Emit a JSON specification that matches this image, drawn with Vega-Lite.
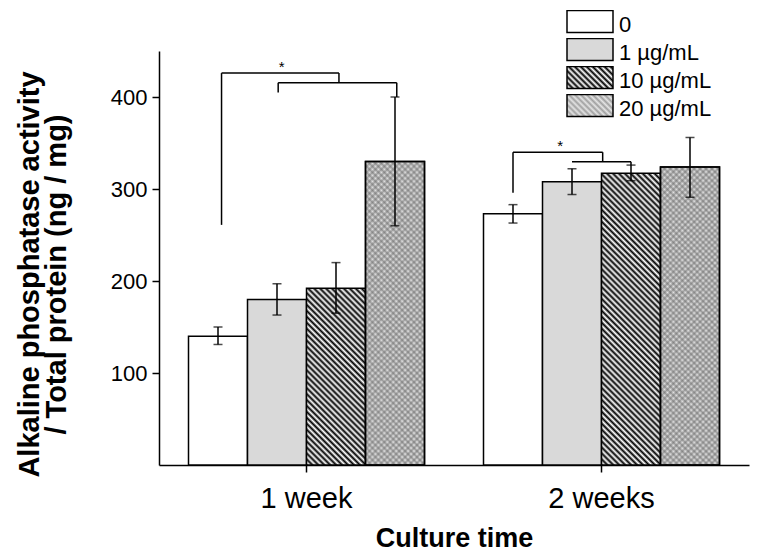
{
  "$schema": "https://vega.github.io/schema/vega-lite/v6.json",
  "width": 590,
  "height": 414,
  "autosize": {"type": "none"},
  "padding": {"left": 159, "top": 51, "right": 22, "bottom": 94},
  "background": "white",
  "config": {
    "view": {"stroke": null},
    "font": "Liberation Sans",
    "axis": {"domainColor": "black", "domainWidth": 1.5, "tickColor": "black", "tickWidth": 1.5, "labelColor": "black", "titleColor": "black", "labelFont": "Liberation Sans", "titleFont": "Liberation Sans", "grid": false}
  },
  "datasets": {
    "bars": [
      {"week": "1 week", "conc": "0", "mean": 140, "low": 131, "high": 150},
      {"week": "1 week", "conc": "1 µg/mL", "mean": 180, "low": 163, "high": 197},
      {"week": "1 week", "conc": "10 µg/mL", "mean": 192, "low": 165, "high": 220},
      {"week": "1 week", "conc": "20 µg/mL", "mean": 330, "low": 260, "high": 400},
      {"week": "2 weeks", "conc": "0", "mean": 273, "low": 263, "high": 283},
      {"week": "2 weeks", "conc": "1 µg/mL", "mean": 308, "low": 294, "high": 322},
      {"week": "2 weeks", "conc": "10 µg/mL", "mean": 317, "low": 309, "high": 326},
      {"week": "2 weeks", "conc": "20 µg/mL", "mean": 324, "low": 291, "high": 356}
    ],
    "brackets": [
      {"xa": 1.06, "xb": 1.06, "ya": 261, "yb": 426},
      {"xa": 1.06, "xb": 3.05, "ya": 426, "yb": 426},
      {"xa": 3.05, "xb": 3.05, "ya": 426, "yb": 415.5},
      {"xa": 2.02, "xb": 4.03, "ya": 415.5, "yb": 415.5},
      {"xa": 2.02, "xb": 2.02, "ya": 415.5, "yb": 405},
      {"xa": 4.03, "xb": 4.03, "ya": 415.5, "yb": 400},
      {"xa": 6, "xb": 6, "ya": 296, "yb": 340},
      {"xa": 6, "xb": 7.52, "ya": 340, "yb": 340},
      {"xa": 7.52, "xb": 7.52, "ya": 340, "yb": 329.7},
      {"xa": 7, "xb": 8, "ya": 329.7, "yb": 329.7},
      {"xa": 8, "xb": 8, "ya": 329.7, "yb": 326}
    ],
    "stars": [
      {"xs": 2.08, "ys": 426, "label": "*"},
      {"xs": 6.8, "ys": 340, "label": "*"}
    ]
  },
  "layer": [
    {
      "data": {"name": "bars"},
      "encoding": {
        "x": {"field": "week", "type": "nominal", "scale": {"paddingInner": 0.2, "paddingOuter": 0.1},
          "axis": {"title": "Culture time", "labelAngle": 0, "labelFontSize": 29, "labelPadding": 12, "tickSize": 7, "titleFontSize": 27, "titleFontWeight": "bold", "titleY": 60, "titleBaseline": "top"}},
        "xOffset": {"field": "conc", "type": "nominal", "scale": {"domain": ["0", "1 µg/mL", "10 µg/mL", "20 µg/mL"], "paddingInner": 0, "paddingOuter": 0}}
      },
      "layer": [
        {
          "mark": {"type": "bar", "stroke": "black", "strokeWidth": 1.5},
          "encoding": {
            "y": {"field": "mean", "type": "quantitative", "scale": {"domain": [0, 450], "nice": false},
              "axis": {"title": ["Alkaline phosphatase activity", "/ Total protein (ng / mg)"], "values": [100, 200, 300, 400], "labelFontSize": 22, "tickSize": 7, "labelPadding": 5, "titleFontSize": 29, "titleFontWeight": "bold", "titleX": -121, "titleY": 223, "titleAngle": -90, "titleAlign": "center", "titleBaseline": "alphabetic", "titleLineHeight": 27}},
            "fill": {
              "field": "conc", "type": "nominal",
              "scale": {"domain": ["0", "1 µg/mL", "10 µg/mL", "20 µg/mL"], "range": ["#ffffff", "#d9d9d9",
                {"expr": "{'gradient': 'linear', 'x1': 0, 'y1': 1, 'x2': 1.3136, 'y2': 0.3721, 'stops': [{'offset': 0, 'color': '#000'}, {'offset': 0.04, 'color': '#fff'}, {'offset': 0.08, 'color': '#000'}, {'offset': 0.12, 'color': '#fff'}, {'offset': 0.16, 'color': '#000'}, {'offset': 0.2, 'color': '#fff'}, {'offset': 0.24, 'color': '#000'}, {'offset': 0.28, 'color': '#fff'}, {'offset': 0.32, 'color': '#000'}, {'offset': 0.36, 'color': '#fff'}, {'offset': 0.4, 'color': '#000'}, {'offset': 0.44, 'color': '#fff'}, {'offset': 0.48, 'color': '#000'}, {'offset': 0.52, 'color': '#fff'}, {'offset': 0.56, 'color': '#000'}, {'offset': 0.6, 'color': '#fff'}, {'offset': 0.64, 'color': '#000'}, {'offset': 0.68, 'color': '#fff'}, {'offset': 0.72, 'color': '#000'}, {'offset': 0.76, 'color': '#fff'}, {'offset': 0.8, 'color': '#000'}, {'offset': 0.84, 'color': '#fff'}, {'offset': 0.88, 'color': '#000'}, {'offset': 0.92, 'color': '#fff'}, {'offset': 0.96, 'color': '#000'}, {'offset': 1, 'color': '#fff'}]}"},
                {"expr": "{'gradient': 'linear', 'x1': 0, 'y1': 1, 'x2': 1.3136, 'y2': 0.3721, 'stops': [{'offset': 0, 'color': '#a0a0a0'}, {'offset': 0.04, 'color': '#e4e4e4'}, {'offset': 0.08, 'color': '#a0a0a0'}, {'offset': 0.12, 'color': '#e4e4e4'}, {'offset': 0.16, 'color': '#a0a0a0'}, {'offset': 0.2, 'color': '#e4e4e4'}, {'offset': 0.24, 'color': '#a0a0a0'}, {'offset': 0.28, 'color': '#e4e4e4'}, {'offset': 0.32, 'color': '#a0a0a0'}, {'offset': 0.36, 'color': '#e4e4e4'}, {'offset': 0.4, 'color': '#a0a0a0'}, {'offset': 0.44, 'color': '#e4e4e4'}, {'offset': 0.48, 'color': '#a0a0a0'}, {'offset': 0.52, 'color': '#e4e4e4'}, {'offset': 0.56, 'color': '#a0a0a0'}, {'offset': 0.6, 'color': '#e4e4e4'}, {'offset': 0.64, 'color': '#a0a0a0'}, {'offset': 0.68, 'color': '#e4e4e4'}, {'offset': 0.72, 'color': '#a0a0a0'}, {'offset': 0.76, 'color': '#e4e4e4'}, {'offset': 0.8, 'color': '#a0a0a0'}, {'offset': 0.84, 'color': '#e4e4e4'}, {'offset': 0.88, 'color': '#a0a0a0'}, {'offset': 0.92, 'color': '#e4e4e4'}, {'offset': 0.96, 'color': '#a0a0a0'}, {'offset': 1, 'color': '#e4e4e4'}]}"}
              ]},
              "legend": {"title": null, "orient": "none", "legendX": 407, "legendY": -41, "symbolType": "M-1,-0.478H1V0.478H-1Z", "symbolSize": 2116, "clipHeight": 23, "rowPadding": 2, "labelFontSize": 22, "labelFont": "Liberation Sans", "labelColor": "black", "labelOffset": 5, "padding": 0, "symbolStrokeColor": "black", "symbolStrokeWidth": 1.5, "symbolOpacity": 1,
                "encode": {
                  "symbols": {"update": {"stroke": {"value": "black"}, "strokeWidth": {"value": 1.5}}},
                  "labels": {"update": {"dy": {"value": 3}}}
                }},
              "condition": [
                {"test": "datum.week === '1 week' && datum.conc === '10 µg/mL'", "value": {"gradient": "linear", "x1": 0, "y1": 1, "x2": 0.4042, "y2": -0.21, "stops": [
                  {"offset": 0, "color": "#000"}, {"offset": 0.0125, "color": "#fff"}, {"offset": 0.025, "color": "#000"}, {"offset": 0.0375, "color": "#fff"}, {"offset": 0.05, "color": "#000"}, {"offset": 0.0625, "color": "#fff"}, {"offset": 0.075, "color": "#000"}, {"offset": 0.0875, "color": "#fff"}, {"offset": 0.1, "color": "#000"}, {"offset": 0.1125, "color": "#fff"},
                  {"offset": 0.125, "color": "#000"}, {"offset": 0.1375, "color": "#fff"}, {"offset": 0.15, "color": "#000"}, {"offset": 0.1625, "color": "#fff"}, {"offset": 0.175, "color": "#000"}, {"offset": 0.1875, "color": "#fff"}, {"offset": 0.2, "color": "#000"}, {"offset": 0.2125, "color": "#fff"}, {"offset": 0.225, "color": "#000"}, {"offset": 0.2375, "color": "#fff"},
                  {"offset": 0.25, "color": "#000"}, {"offset": 0.2625, "color": "#fff"}, {"offset": 0.275, "color": "#000"}, {"offset": 0.2875, "color": "#fff"}, {"offset": 0.3, "color": "#000"}, {"offset": 0.3125, "color": "#fff"}, {"offset": 0.325, "color": "#000"}, {"offset": 0.3375, "color": "#fff"}, {"offset": 0.35, "color": "#000"}, {"offset": 0.3625, "color": "#fff"},
                  {"offset": 0.375, "color": "#000"}, {"offset": 0.3875, "color": "#fff"}, {"offset": 0.4, "color": "#000"}, {"offset": 0.4125, "color": "#fff"}, {"offset": 0.425, "color": "#000"}, {"offset": 0.4375, "color": "#fff"}, {"offset": 0.45, "color": "#000"}, {"offset": 0.4625, "color": "#fff"}, {"offset": 0.475, "color": "#000"}, {"offset": 0.4875, "color": "#fff"},
                  {"offset": 0.5, "color": "#000"}, {"offset": 0.5125, "color": "#fff"}, {"offset": 0.525, "color": "#000"}, {"offset": 0.5375, "color": "#fff"}, {"offset": 0.55, "color": "#000"}, {"offset": 0.5625, "color": "#fff"}, {"offset": 0.575, "color": "#000"}, {"offset": 0.5875, "color": "#fff"}, {"offset": 0.6, "color": "#000"}, {"offset": 0.6125, "color": "#fff"},
                  {"offset": 0.625, "color": "#000"}, {"offset": 0.6375, "color": "#fff"}, {"offset": 0.65, "color": "#000"}, {"offset": 0.6625, "color": "#fff"}, {"offset": 0.675, "color": "#000"}, {"offset": 0.6875, "color": "#fff"}, {"offset": 0.7, "color": "#000"}, {"offset": 0.7125, "color": "#fff"}, {"offset": 0.725, "color": "#000"}, {"offset": 0.7375, "color": "#fff"},
                  {"offset": 0.75, "color": "#000"}, {"offset": 0.7625, "color": "#fff"}, {"offset": 0.775, "color": "#000"}, {"offset": 0.7875, "color": "#fff"}, {"offset": 0.8, "color": "#000"}, {"offset": 0.8125, "color": "#fff"}, {"offset": 0.825, "color": "#000"}, {"offset": 0.8375, "color": "#fff"}, {"offset": 0.85, "color": "#000"}, {"offset": 0.8625, "color": "#fff"},
                  {"offset": 0.875, "color": "#000"}, {"offset": 0.8875, "color": "#fff"}, {"offset": 0.9, "color": "#000"}, {"offset": 0.9125, "color": "#fff"}, {"offset": 0.925, "color": "#000"}, {"offset": 0.9375, "color": "#fff"}, {"offset": 0.95, "color": "#000"}, {"offset": 0.9625, "color": "#fff"}, {"offset": 0.975, "color": "#000"}, {"offset": 0.9875, "color": "#fff"},
                  {"offset": 1, "color": "#000"}
                ]}},
                {"test": "datum.week === '2 weeks' && datum.conc === '10 µg/mL'", "value": {"gradient": "linear", "x1": 0, "y1": 1, "x2": 0.2474, "y2": -0.2229, "stops": [
                  {"offset": 0, "color": "#000"}, {"offset": 0.008, "color": "#fff"}, {"offset": 0.016, "color": "#000"}, {"offset": 0.024, "color": "#fff"}, {"offset": 0.032, "color": "#000"}, {"offset": 0.04, "color": "#fff"}, {"offset": 0.048, "color": "#000"}, {"offset": 0.056, "color": "#fff"}, {"offset": 0.064, "color": "#000"}, {"offset": 0.072, "color": "#fff"},
                  {"offset": 0.08, "color": "#000"}, {"offset": 0.088, "color": "#fff"}, {"offset": 0.096, "color": "#000"}, {"offset": 0.104, "color": "#fff"}, {"offset": 0.112, "color": "#000"}, {"offset": 0.12, "color": "#fff"}, {"offset": 0.128, "color": "#000"}, {"offset": 0.136, "color": "#fff"}, {"offset": 0.144, "color": "#000"}, {"offset": 0.152, "color": "#fff"},
                  {"offset": 0.16, "color": "#000"}, {"offset": 0.168, "color": "#fff"}, {"offset": 0.176, "color": "#000"}, {"offset": 0.184, "color": "#fff"}, {"offset": 0.192, "color": "#000"}, {"offset": 0.2, "color": "#fff"}, {"offset": 0.208, "color": "#000"}, {"offset": 0.216, "color": "#fff"}, {"offset": 0.224, "color": "#000"}, {"offset": 0.232, "color": "#fff"},
                  {"offset": 0.24, "color": "#000"}, {"offset": 0.248, "color": "#fff"}, {"offset": 0.256, "color": "#000"}, {"offset": 0.264, "color": "#fff"}, {"offset": 0.272, "color": "#000"}, {"offset": 0.28, "color": "#fff"}, {"offset": 0.288, "color": "#000"}, {"offset": 0.296, "color": "#fff"}, {"offset": 0.304, "color": "#000"}, {"offset": 0.312, "color": "#fff"},
                  {"offset": 0.32, "color": "#000"}, {"offset": 0.328, "color": "#fff"}, {"offset": 0.336, "color": "#000"}, {"offset": 0.344, "color": "#fff"}, {"offset": 0.352, "color": "#000"}, {"offset": 0.36, "color": "#fff"}, {"offset": 0.368, "color": "#000"}, {"offset": 0.376, "color": "#fff"}, {"offset": 0.384, "color": "#000"}, {"offset": 0.392, "color": "#fff"},
                  {"offset": 0.4, "color": "#000"}, {"offset": 0.408, "color": "#fff"}, {"offset": 0.416, "color": "#000"}, {"offset": 0.424, "color": "#fff"}, {"offset": 0.432, "color": "#000"}, {"offset": 0.44, "color": "#fff"}, {"offset": 0.448, "color": "#000"}, {"offset": 0.456, "color": "#fff"}, {"offset": 0.464, "color": "#000"}, {"offset": 0.472, "color": "#fff"},
                  {"offset": 0.48, "color": "#000"}, {"offset": 0.488, "color": "#fff"}, {"offset": 0.496, "color": "#000"}, {"offset": 0.504, "color": "#fff"}, {"offset": 0.512, "color": "#000"}, {"offset": 0.52, "color": "#fff"}, {"offset": 0.528, "color": "#000"}, {"offset": 0.536, "color": "#fff"}, {"offset": 0.544, "color": "#000"}, {"offset": 0.552, "color": "#fff"},
                  {"offset": 0.56, "color": "#000"}, {"offset": 0.568, "color": "#fff"}, {"offset": 0.576, "color": "#000"}, {"offset": 0.584, "color": "#fff"}, {"offset": 0.592, "color": "#000"}, {"offset": 0.6, "color": "#fff"}, {"offset": 0.608, "color": "#000"}, {"offset": 0.616, "color": "#fff"}, {"offset": 0.624, "color": "#000"}, {"offset": 0.632, "color": "#fff"},
                  {"offset": 0.64, "color": "#000"}, {"offset": 0.648, "color": "#fff"}, {"offset": 0.656, "color": "#000"}, {"offset": 0.664, "color": "#fff"}, {"offset": 0.672, "color": "#000"}, {"offset": 0.68, "color": "#fff"}, {"offset": 0.688, "color": "#000"}, {"offset": 0.696, "color": "#fff"}, {"offset": 0.704, "color": "#000"}, {"offset": 0.712, "color": "#fff"},
                  {"offset": 0.72, "color": "#000"}, {"offset": 0.728, "color": "#fff"}, {"offset": 0.736, "color": "#000"}, {"offset": 0.744, "color": "#fff"}, {"offset": 0.752, "color": "#000"}, {"offset": 0.76, "color": "#fff"}, {"offset": 0.768, "color": "#000"}, {"offset": 0.776, "color": "#fff"}, {"offset": 0.784, "color": "#000"}, {"offset": 0.792, "color": "#fff"},
                  {"offset": 0.8, "color": "#000"}, {"offset": 0.808, "color": "#fff"}, {"offset": 0.816, "color": "#000"}, {"offset": 0.824, "color": "#fff"}, {"offset": 0.832, "color": "#000"}, {"offset": 0.84, "color": "#fff"}, {"offset": 0.848, "color": "#000"}, {"offset": 0.856, "color": "#fff"}, {"offset": 0.864, "color": "#000"}, {"offset": 0.872, "color": "#fff"},
                  {"offset": 0.88, "color": "#000"}, {"offset": 0.888, "color": "#fff"}, {"offset": 0.896, "color": "#000"}, {"offset": 0.904, "color": "#fff"}, {"offset": 0.912, "color": "#000"}, {"offset": 0.92, "color": "#fff"}, {"offset": 0.928, "color": "#000"}, {"offset": 0.936, "color": "#fff"}, {"offset": 0.944, "color": "#000"}, {"offset": 0.952, "color": "#fff"},
                  {"offset": 0.96, "color": "#000"}, {"offset": 0.968, "color": "#fff"}, {"offset": 0.976, "color": "#000"}, {"offset": 0.984, "color": "#fff"}, {"offset": 0.992, "color": "#000"}, {"offset": 1, "color": "#fff"}
                ]}},
                {"test": "datum.conc === '20 µg/mL'", "value": {"gradient": "linear", "x1": 0, "y1": 1, "x2": 0.233, "y2": -0.1881, "stops": [
                  {"offset": 0, "color": "#a0a0a0"}, {"offset": 0.008, "color": "#e4e4e4"}, {"offset": 0.016, "color": "#a0a0a0"}, {"offset": 0.024, "color": "#e4e4e4"}, {"offset": 0.032, "color": "#a0a0a0"}, {"offset": 0.04, "color": "#e4e4e4"}, {"offset": 0.048, "color": "#a0a0a0"}, {"offset": 0.056, "color": "#e4e4e4"}, {"offset": 0.064, "color": "#a0a0a0"}, {"offset": 0.072, "color": "#e4e4e4"},
                  {"offset": 0.08, "color": "#a0a0a0"}, {"offset": 0.088, "color": "#e4e4e4"}, {"offset": 0.096, "color": "#a0a0a0"}, {"offset": 0.104, "color": "#e4e4e4"}, {"offset": 0.112, "color": "#a0a0a0"}, {"offset": 0.12, "color": "#e4e4e4"}, {"offset": 0.128, "color": "#a0a0a0"}, {"offset": 0.136, "color": "#e4e4e4"}, {"offset": 0.144, "color": "#a0a0a0"}, {"offset": 0.152, "color": "#e4e4e4"},
                  {"offset": 0.16, "color": "#a0a0a0"}, {"offset": 0.168, "color": "#e4e4e4"}, {"offset": 0.176, "color": "#a0a0a0"}, {"offset": 0.184, "color": "#e4e4e4"}, {"offset": 0.192, "color": "#a0a0a0"}, {"offset": 0.2, "color": "#e4e4e4"}, {"offset": 0.208, "color": "#a0a0a0"}, {"offset": 0.216, "color": "#e4e4e4"}, {"offset": 0.224, "color": "#a0a0a0"}, {"offset": 0.232, "color": "#e4e4e4"},
                  {"offset": 0.24, "color": "#a0a0a0"}, {"offset": 0.248, "color": "#e4e4e4"}, {"offset": 0.256, "color": "#a0a0a0"}, {"offset": 0.264, "color": "#e4e4e4"}, {"offset": 0.272, "color": "#a0a0a0"}, {"offset": 0.28, "color": "#e4e4e4"}, {"offset": 0.288, "color": "#a0a0a0"}, {"offset": 0.296, "color": "#e4e4e4"}, {"offset": 0.304, "color": "#a0a0a0"}, {"offset": 0.312, "color": "#e4e4e4"},
                  {"offset": 0.32, "color": "#a0a0a0"}, {"offset": 0.328, "color": "#e4e4e4"}, {"offset": 0.336, "color": "#a0a0a0"}, {"offset": 0.344, "color": "#e4e4e4"}, {"offset": 0.352, "color": "#a0a0a0"}, {"offset": 0.36, "color": "#e4e4e4"}, {"offset": 0.368, "color": "#a0a0a0"}, {"offset": 0.376, "color": "#e4e4e4"}, {"offset": 0.384, "color": "#a0a0a0"}, {"offset": 0.392, "color": "#e4e4e4"},
                  {"offset": 0.4, "color": "#a0a0a0"}, {"offset": 0.408, "color": "#e4e4e4"}, {"offset": 0.416, "color": "#a0a0a0"}, {"offset": 0.424, "color": "#e4e4e4"}, {"offset": 0.432, "color": "#a0a0a0"}, {"offset": 0.44, "color": "#e4e4e4"}, {"offset": 0.448, "color": "#a0a0a0"}, {"offset": 0.456, "color": "#e4e4e4"}, {"offset": 0.464, "color": "#a0a0a0"}, {"offset": 0.472, "color": "#e4e4e4"},
                  {"offset": 0.48, "color": "#a0a0a0"}, {"offset": 0.488, "color": "#e4e4e4"}, {"offset": 0.496, "color": "#a0a0a0"}, {"offset": 0.504, "color": "#e4e4e4"}, {"offset": 0.512, "color": "#a0a0a0"}, {"offset": 0.52, "color": "#e4e4e4"}, {"offset": 0.528, "color": "#a0a0a0"}, {"offset": 0.536, "color": "#e4e4e4"}, {"offset": 0.544, "color": "#a0a0a0"}, {"offset": 0.552, "color": "#e4e4e4"},
                  {"offset": 0.56, "color": "#a0a0a0"}, {"offset": 0.568, "color": "#e4e4e4"}, {"offset": 0.576, "color": "#a0a0a0"}, {"offset": 0.584, "color": "#e4e4e4"}, {"offset": 0.592, "color": "#a0a0a0"}, {"offset": 0.6, "color": "#e4e4e4"}, {"offset": 0.608, "color": "#a0a0a0"}, {"offset": 0.616, "color": "#e4e4e4"}, {"offset": 0.624, "color": "#a0a0a0"}, {"offset": 0.632, "color": "#e4e4e4"},
                  {"offset": 0.64, "color": "#a0a0a0"}, {"offset": 0.648, "color": "#e4e4e4"}, {"offset": 0.656, "color": "#a0a0a0"}, {"offset": 0.664, "color": "#e4e4e4"}, {"offset": 0.672, "color": "#a0a0a0"}, {"offset": 0.68, "color": "#e4e4e4"}, {"offset": 0.688, "color": "#a0a0a0"}, {"offset": 0.696, "color": "#e4e4e4"}, {"offset": 0.704, "color": "#a0a0a0"}, {"offset": 0.712, "color": "#e4e4e4"},
                  {"offset": 0.72, "color": "#a0a0a0"}, {"offset": 0.728, "color": "#e4e4e4"}, {"offset": 0.736, "color": "#a0a0a0"}, {"offset": 0.744, "color": "#e4e4e4"}, {"offset": 0.752, "color": "#a0a0a0"}, {"offset": 0.76, "color": "#e4e4e4"}, {"offset": 0.768, "color": "#a0a0a0"}, {"offset": 0.776, "color": "#e4e4e4"}, {"offset": 0.784, "color": "#a0a0a0"}, {"offset": 0.792, "color": "#e4e4e4"},
                  {"offset": 0.8, "color": "#a0a0a0"}, {"offset": 0.808, "color": "#e4e4e4"}, {"offset": 0.816, "color": "#a0a0a0"}, {"offset": 0.824, "color": "#e4e4e4"}, {"offset": 0.832, "color": "#a0a0a0"}, {"offset": 0.84, "color": "#e4e4e4"}, {"offset": 0.848, "color": "#a0a0a0"}, {"offset": 0.856, "color": "#e4e4e4"}, {"offset": 0.864, "color": "#a0a0a0"}, {"offset": 0.872, "color": "#e4e4e4"},
                  {"offset": 0.88, "color": "#a0a0a0"}, {"offset": 0.888, "color": "#e4e4e4"}, {"offset": 0.896, "color": "#a0a0a0"}, {"offset": 0.904, "color": "#e4e4e4"}, {"offset": 0.912, "color": "#a0a0a0"}, {"offset": 0.92, "color": "#e4e4e4"}, {"offset": 0.928, "color": "#a0a0a0"}, {"offset": 0.936, "color": "#e4e4e4"}, {"offset": 0.944, "color": "#a0a0a0"}, {"offset": 0.952, "color": "#e4e4e4"},
                  {"offset": 0.96, "color": "#a0a0a0"}, {"offset": 0.968, "color": "#e4e4e4"}, {"offset": 0.976, "color": "#a0a0a0"}, {"offset": 0.984, "color": "#e4e4e4"}, {"offset": 0.992, "color": "#a0a0a0"}, {"offset": 1, "color": "#e4e4e4"}
                ]}}
              ]
            }
          }
        },
        {
          "transform": [{"filter": "datum.conc === '20 µg/mL'"}],
          "mark": {"type": "bar", "stroke": "black", "strokeWidth": 1.5, "fill": {"gradient": "linear", "x1": 0, "y1": 0, "x2": 0.233, "y2": 1.1881, "stops": [
            {"offset": 0, "color": "rgba(100,100,100,0.5)"}, {"offset": 0.008, "color": "rgba(100,100,100,0)"}, {"offset": 0.016, "color": "rgba(100,100,100,0.5)"}, {"offset": 0.024, "color": "rgba(100,100,100,0)"}, {"offset": 0.032, "color": "rgba(100,100,100,0.5)"}, {"offset": 0.04, "color": "rgba(100,100,100,0)"}, {"offset": 0.048, "color": "rgba(100,100,100,0.5)"}, {"offset": 0.056, "color": "rgba(100,100,100,0)"}, {"offset": 0.064, "color": "rgba(100,100,100,0.5)"}, {"offset": 0.072, "color": "rgba(100,100,100,0)"},
            {"offset": 0.08, "color": "rgba(100,100,100,0.5)"}, {"offset": 0.088, "color": "rgba(100,100,100,0)"}, {"offset": 0.096, "color": "rgba(100,100,100,0.5)"}, {"offset": 0.104, "color": "rgba(100,100,100,0)"}, {"offset": 0.112, "color": "rgba(100,100,100,0.5)"}, {"offset": 0.12, "color": "rgba(100,100,100,0)"}, {"offset": 0.128, "color": "rgba(100,100,100,0.5)"}, {"offset": 0.136, "color": "rgba(100,100,100,0)"}, {"offset": 0.144, "color": "rgba(100,100,100,0.5)"}, {"offset": 0.152, "color": "rgba(100,100,100,0)"},
            {"offset": 0.16, "color": "rgba(100,100,100,0.5)"}, {"offset": 0.168, "color": "rgba(100,100,100,0)"}, {"offset": 0.176, "color": "rgba(100,100,100,0.5)"}, {"offset": 0.184, "color": "rgba(100,100,100,0)"}, {"offset": 0.192, "color": "rgba(100,100,100,0.5)"}, {"offset": 0.2, "color": "rgba(100,100,100,0)"}, {"offset": 0.208, "color": "rgba(100,100,100,0.5)"}, {"offset": 0.216, "color": "rgba(100,100,100,0)"}, {"offset": 0.224, "color": "rgba(100,100,100,0.5)"}, {"offset": 0.232, "color": "rgba(100,100,100,0)"},
            {"offset": 0.24, "color": "rgba(100,100,100,0.5)"}, {"offset": 0.248, "color": "rgba(100,100,100,0)"}, {"offset": 0.256, "color": "rgba(100,100,100,0.5)"}, {"offset": 0.264, "color": "rgba(100,100,100,0)"}, {"offset": 0.272, "color": "rgba(100,100,100,0.5)"}, {"offset": 0.28, "color": "rgba(100,100,100,0)"}, {"offset": 0.288, "color": "rgba(100,100,100,0.5)"}, {"offset": 0.296, "color": "rgba(100,100,100,0)"}, {"offset": 0.304, "color": "rgba(100,100,100,0.5)"}, {"offset": 0.312, "color": "rgba(100,100,100,0)"},
            {"offset": 0.32, "color": "rgba(100,100,100,0.5)"}, {"offset": 0.328, "color": "rgba(100,100,100,0)"}, {"offset": 0.336, "color": "rgba(100,100,100,0.5)"}, {"offset": 0.344, "color": "rgba(100,100,100,0)"}, {"offset": 0.352, "color": "rgba(100,100,100,0.5)"}, {"offset": 0.36, "color": "rgba(100,100,100,0)"}, {"offset": 0.368, "color": "rgba(100,100,100,0.5)"}, {"offset": 0.376, "color": "rgba(100,100,100,0)"}, {"offset": 0.384, "color": "rgba(100,100,100,0.5)"}, {"offset": 0.392, "color": "rgba(100,100,100,0)"},
            {"offset": 0.4, "color": "rgba(100,100,100,0.5)"}, {"offset": 0.408, "color": "rgba(100,100,100,0)"}, {"offset": 0.416, "color": "rgba(100,100,100,0.5)"}, {"offset": 0.424, "color": "rgba(100,100,100,0)"}, {"offset": 0.432, "color": "rgba(100,100,100,0.5)"}, {"offset": 0.44, "color": "rgba(100,100,100,0)"}, {"offset": 0.448, "color": "rgba(100,100,100,0.5)"}, {"offset": 0.456, "color": "rgba(100,100,100,0)"}, {"offset": 0.464, "color": "rgba(100,100,100,0.5)"}, {"offset": 0.472, "color": "rgba(100,100,100,0)"},
            {"offset": 0.48, "color": "rgba(100,100,100,0.5)"}, {"offset": 0.488, "color": "rgba(100,100,100,0)"}, {"offset": 0.496, "color": "rgba(100,100,100,0.5)"}, {"offset": 0.504, "color": "rgba(100,100,100,0)"}, {"offset": 0.512, "color": "rgba(100,100,100,0.5)"}, {"offset": 0.52, "color": "rgba(100,100,100,0)"}, {"offset": 0.528, "color": "rgba(100,100,100,0.5)"}, {"offset": 0.536, "color": "rgba(100,100,100,0)"}, {"offset": 0.544, "color": "rgba(100,100,100,0.5)"}, {"offset": 0.552, "color": "rgba(100,100,100,0)"},
            {"offset": 0.56, "color": "rgba(100,100,100,0.5)"}, {"offset": 0.568, "color": "rgba(100,100,100,0)"}, {"offset": 0.576, "color": "rgba(100,100,100,0.5)"}, {"offset": 0.584, "color": "rgba(100,100,100,0)"}, {"offset": 0.592, "color": "rgba(100,100,100,0.5)"}, {"offset": 0.6, "color": "rgba(100,100,100,0)"}, {"offset": 0.608, "color": "rgba(100,100,100,0.5)"}, {"offset": 0.616, "color": "rgba(100,100,100,0)"}, {"offset": 0.624, "color": "rgba(100,100,100,0.5)"}, {"offset": 0.632, "color": "rgba(100,100,100,0)"},
            {"offset": 0.64, "color": "rgba(100,100,100,0.5)"}, {"offset": 0.648, "color": "rgba(100,100,100,0)"}, {"offset": 0.656, "color": "rgba(100,100,100,0.5)"}, {"offset": 0.664, "color": "rgba(100,100,100,0)"}, {"offset": 0.672, "color": "rgba(100,100,100,0.5)"}, {"offset": 0.68, "color": "rgba(100,100,100,0)"}, {"offset": 0.688, "color": "rgba(100,100,100,0.5)"}, {"offset": 0.696, "color": "rgba(100,100,100,0)"}, {"offset": 0.704, "color": "rgba(100,100,100,0.5)"}, {"offset": 0.712, "color": "rgba(100,100,100,0)"},
            {"offset": 0.72, "color": "rgba(100,100,100,0.5)"}, {"offset": 0.728, "color": "rgba(100,100,100,0)"}, {"offset": 0.736, "color": "rgba(100,100,100,0.5)"}, {"offset": 0.744, "color": "rgba(100,100,100,0)"}, {"offset": 0.752, "color": "rgba(100,100,100,0.5)"}, {"offset": 0.76, "color": "rgba(100,100,100,0)"}, {"offset": 0.768, "color": "rgba(100,100,100,0.5)"}, {"offset": 0.776, "color": "rgba(100,100,100,0)"}, {"offset": 0.784, "color": "rgba(100,100,100,0.5)"}, {"offset": 0.792, "color": "rgba(100,100,100,0)"},
            {"offset": 0.8, "color": "rgba(100,100,100,0.5)"}, {"offset": 0.808, "color": "rgba(100,100,100,0)"}, {"offset": 0.816, "color": "rgba(100,100,100,0.5)"}, {"offset": 0.824, "color": "rgba(100,100,100,0)"}, {"offset": 0.832, "color": "rgba(100,100,100,0.5)"}, {"offset": 0.84, "color": "rgba(100,100,100,0)"}, {"offset": 0.848, "color": "rgba(100,100,100,0.5)"}, {"offset": 0.856, "color": "rgba(100,100,100,0)"}, {"offset": 0.864, "color": "rgba(100,100,100,0.5)"}, {"offset": 0.872, "color": "rgba(100,100,100,0)"},
            {"offset": 0.88, "color": "rgba(100,100,100,0.5)"}, {"offset": 0.888, "color": "rgba(100,100,100,0)"}, {"offset": 0.896, "color": "rgba(100,100,100,0.5)"}, {"offset": 0.904, "color": "rgba(100,100,100,0)"}, {"offset": 0.912, "color": "rgba(100,100,100,0.5)"}, {"offset": 0.92, "color": "rgba(100,100,100,0)"}, {"offset": 0.928, "color": "rgba(100,100,100,0.5)"}, {"offset": 0.936, "color": "rgba(100,100,100,0)"}, {"offset": 0.944, "color": "rgba(100,100,100,0.5)"}, {"offset": 0.952, "color": "rgba(100,100,100,0)"},
            {"offset": 0.96, "color": "rgba(100,100,100,0.5)"}, {"offset": 0.968, "color": "rgba(100,100,100,0)"}, {"offset": 0.976, "color": "rgba(100,100,100,0.5)"}, {"offset": 0.984, "color": "rgba(100,100,100,0)"}, {"offset": 0.992, "color": "rgba(100,100,100,0.5)"}, {"offset": 1, "color": "rgba(100,100,100,0)"}
          ]}},
          "encoding": {
            "y": {"field": "mean", "type": "quantitative", "scale": {"domain": [0, 450], "nice": false}}
          }
        },
        {
          "mark": {"type": "rule", "stroke": "black", "strokeWidth": 1.5},
          "encoding": {
            "y": {"field": "low", "type": "quantitative", "scale": {"domain": [0, 450], "nice": false}},
            "y2": {"field": "high"}
          }
        },
        {
          "mark": {"type": "tick", "color": "black", "thickness": 1.5, "size": 9, "orient": "horizontal"},
          "encoding": {"y": {"field": "low", "type": "quantitative", "scale": {"domain": [0, 450], "nice": false}}}
        },
        {
          "mark": {"type": "tick", "color": "black", "thickness": 1.5, "size": 9, "orient": "horizontal"},
          "encoding": {"y": {"field": "high", "type": "quantitative", "scale": {"domain": [0, 450], "nice": false}}}
        }
      ]
    },
    {
      "data": {"name": "brackets"},
      "mark": {"type": "rule", "stroke": "black", "strokeWidth": 1.5},
      "encoding": {
        "x": {"field": "xa", "type": "quantitative", "scale": {"domain": [0, 10], "nice": false, "zero": false}, "axis": null},
        "x2": {"field": "xb"},
        "y": {"field": "ya", "type": "quantitative", "scale": {"domain": [0, 450], "nice": false}, "axis": null},
        "y2": {"field": "yb"}
      }
    },
    {
      "data": {"name": "stars"},
      "mark": {"type": "text", "fontSize": 15, "font": "Liberation Sans", "baseline": "alphabetic", "dy": -1, "color": "black"},
      "encoding": {
        "x": {"field": "xs", "type": "quantitative", "scale": {"domain": [0, 10], "nice": false, "zero": false}, "axis": null},
        "y": {"field": "ys", "type": "quantitative", "scale": {"domain": [0, 450], "nice": false}, "axis": null},
        "text": {"field": "label"}
      }
    }
  ],
  "resolve": {"scale": {"x": "independent"}, "axis": {"y": "independent"}}
}
